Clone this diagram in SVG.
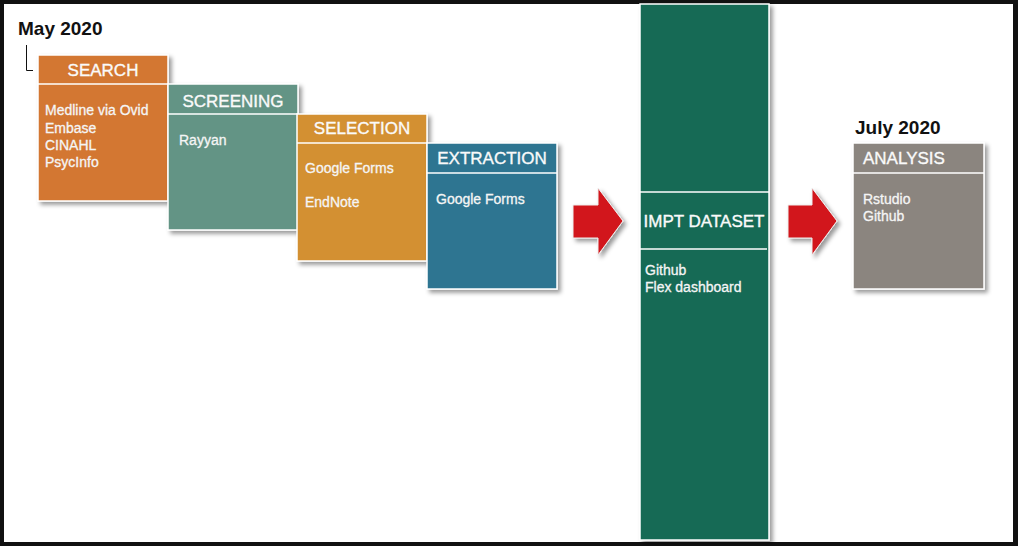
<svg xmlns="http://www.w3.org/2000/svg" width="1018" height="546" viewBox="0 0 1018 546">
<defs>
<filter id="sh" x="-10%" y="-10%" width="130%" height="130%">
<feDropShadow dx="3" dy="3" stdDeviation="2" flood-color="#000" flood-opacity="0.4"/>
</filter>
</defs>
<style>
.box{stroke:#fff;stroke-width:1.5;filter:url(#sh)}
.div{stroke:#fff;stroke-width:1.5}
.hd{font-family:"Liberation Sans",Arial,sans-serif;font-size:17px;fill:#fafafa;stroke:#fafafa;stroke-width:0.35;text-anchor:middle}
.bd{font-family:"Liberation Sans",Arial,sans-serif;font-size:14px;fill:#f5f5f5;stroke:#f5f5f5;stroke-width:0.3}
.date{font-family:"Liberation Sans",Arial,sans-serif;font-size:19px;font-weight:bold;fill:#111}
.arr{fill:#D2181B;stroke:#eee;stroke-width:1;filter:url(#sh)}
.conn{stroke:#111;stroke-width:1;fill:none}
</style>
<rect x="0" y="0" width="1018" height="546" fill="#111"/>
<rect x="4" y="4" width="1009" height="538" fill="#fff"/>

<text class="date" x="18" y="35">May 2020</text>
<text class="date" x="855" y="134">July 2020</text>

<g id="connectors">
<path class="conn" d="M26.5,45 V70.5 H33"/>
<polygon class="arr" points="573,205 598,205 598,188 623,221 598,255 598,238 573,238"/>
<polygon class="arr" points="788,205 812,205 812,188 837,221 812,255 812,238 788,238"/>
</g>

<g id="search">
<rect class="box" x="38" y="55" width="130" height="146" fill="#D37730"/>
<line class="div" x1="38" y1="84" x2="168" y2="84"/>
<text class="hd" x="103" y="76">SEARCH</text>
<text class="bd" x="45" y="115">Medline via Ovid</text>
<text class="bd" x="45" y="133">Embase</text>
<text class="bd" x="45" y="150">CINAHL</text>
<text class="bd" x="45" y="167">PsycInfo</text>
</g>

<g id="screening">
<rect class="box" x="168" y="84" width="130" height="146" fill="#649485"/>
<line class="div" x1="168" y1="114" x2="298" y2="114"/>
<text class="hd" x="233" y="107">SCREENING</text>
<text class="bd" x="179" y="145">Rayyan</text>
</g>

<g id="selection">
<rect class="box" x="297" y="114" width="130" height="147" fill="#D39033"/>
<line class="div" x1="297" y1="143" x2="427" y2="143"/>
<text class="hd" x="362" y="134">SELECTION</text>
<text class="bd" x="305" y="173">Google Forms</text>
<text class="bd" x="305" y="207">EndNote</text>
</g>

<g id="extraction">
<rect class="box" x="427" y="143" width="130" height="146" fill="#2E7591"/>
<line class="div" x1="427" y1="173" x2="557" y2="173"/>
<text class="hd" x="492" y="164">EXTRACTION</text>
<text class="bd" x="436" y="204">Google Forms</text>
</g>

<g id="impt-dataset">
<rect class="box" x="640" y="4" width="129" height="536" fill="#126A54"/>
<line class="div" x1="640" y1="192" x2="769" y2="192"/>
<line class="div" x1="640" y1="249" x2="767" y2="249"/>
<text class="hd" x="704" y="227">IMPT DATASET</text>
<text class="bd" x="645" y="275">Github</text>
<text class="bd" x="645" y="292">Flex dashboard</text>
</g>

<g id="analysis">
<rect class="box" x="853" y="143" width="131" height="146" fill="#8B857F"/>
<line class="div" x1="853" y1="173" x2="984" y2="173"/>
<text class="hd" x="863" y="164" style="text-anchor:start">ANALYSIS</text>
<text class="bd" x="863" y="204">Rstudio</text>
<text class="bd" x="863" y="221">Github</text>
</g>
</svg>
